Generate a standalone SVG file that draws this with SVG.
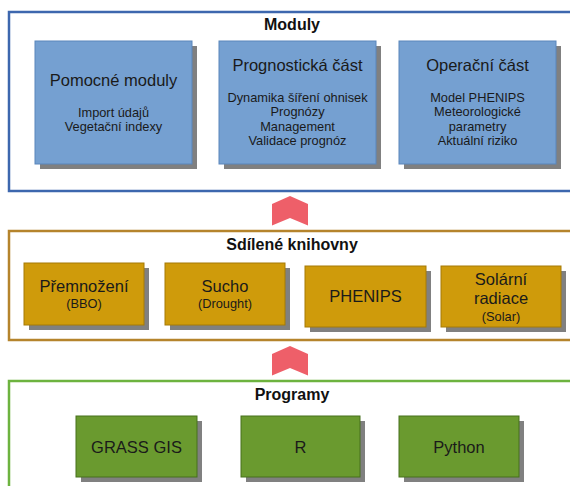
<svg xmlns="http://www.w3.org/2000/svg" width="570" height="486" viewBox="0 0 570 486">
<style>
  .frame{fill:#ffffff;stroke-width:2.5}
  .ftitle{font-family:"Liberation Sans",Arial,sans-serif;font-weight:bold;font-size:16px;fill:#111;text-anchor:middle}
  .shadow{fill:#808080}
  .blue{fill:#75a0d1;stroke:#5a86bb;stroke-width:1}
  .gold{fill:#cf9b0b;stroke:#a67a06;stroke-width:1}
  .green{fill:#6a9a2f;stroke:#46701c;stroke-width:1}
  .t{font-family:"Liberation Sans",Arial,sans-serif;font-size:16.5px;fill:#1a1a1a;text-anchor:middle}
  .s{font-family:"Liberation Sans",Arial,sans-serif;font-size:12.8px;fill:#1a1a1a;text-anchor:middle}
  .arrow{fill:#ee5f69}
</style>
<rect width="570" height="486" fill="#ffffff"/>

<g id="frame-moduly">
  <rect class="frame" x="9" y="12" width="570" height="179" stroke="#3d67ae"/>
  <text class="ftitle" x="292" y="30">Moduly</text>
</g>
<g id="frame-knihovny">
  <rect class="frame" x="9" y="231" width="570" height="109" stroke="#b5842c"/>
  <text class="ftitle" x="292" y="250">Sdílené knihovny</text>
</g>
<g id="frame-programy">
  <rect class="frame" x="9" y="381" width="570" height="120" stroke="#6db33f"/>
  <text class="ftitle" x="292" y="400">Programy</text>
</g>

<g id="pomocne">
  <rect class="shadow" x="40" y="46" width="157" height="123"/>
  <rect class="blue" x="35" y="41" width="157" height="123"/>
  <text class="t" x="113.5" y="86">Pomocné moduly</text>
  <text class="s" x="113.5" y="116.5">Import údajů</text>
  <text class="s" x="113.5" y="131">Vegetační indexy</text>
</g>
<g id="prognosticka">
  <rect class="shadow" x="224" y="46" width="157" height="123"/>
  <rect class="blue" x="219" y="41" width="157" height="123"/>
  <text class="t" x="297.5" y="71">Prognostická část</text>
  <text class="s" x="297.5" y="101.5">Dynamika šíření ohnisek</text>
  <text class="s" x="297.5" y="116">Prognózy</text>
  <text class="s" x="297.5" y="130.5">Management</text>
  <text class="s" x="297.5" y="145">Validace prognóz</text>
</g>
<g id="operacni">
  <rect class="shadow" x="404" y="46" width="157" height="123"/>
  <rect class="blue" x="399" y="41" width="157" height="123"/>
  <text class="t" x="477.5" y="71">Operační část</text>
  <text class="s" x="477.5" y="101.5">Model PHENIPS</text>
  <text class="s" x="477.5" y="116">Meteorologické</text>
  <text class="s" x="477.5" y="130.5">parametry</text>
  <text class="s" x="477.5" y="145">Aktuální riziko</text>
</g>

<g id="premnozeni">
  <rect class="shadow" x="29" y="268" width="120" height="62"/>
  <rect class="gold" x="24" y="263" width="120" height="62"/>
  <text class="t" x="84" y="292">Přemnožení</text>
  <text class="s" x="84" y="307.5">(BBO)</text>
</g>
<g id="sucho">
  <rect class="shadow" x="170" y="268" width="120" height="62"/>
  <rect class="gold" x="165" y="263" width="120" height="62"/>
  <text class="t" x="225" y="292">Sucho</text>
  <text class="s" x="225" y="307.5">(Drought)</text>
</g>
<g id="phenips">
  <rect class="shadow" x="310" y="271" width="121" height="61"/>
  <rect class="gold" x="305" y="266" width="121" height="61"/>
  <text class="t" x="365.5" y="302">PHENIPS</text>
</g>
<g id="solarni">
  <rect class="shadow" x="446" y="271" width="120" height="61"/>
  <rect class="gold" x="441" y="266" width="120" height="61"/>
  <text class="t" x="501" y="285">Solární</text>
  <text class="t" x="501" y="304">radiace</text>
  <text class="s" x="501" y="321">(Solar)</text>
</g>

<g id="grass">
  <rect class="shadow" x="81" y="421" width="121" height="61"/>
  <rect class="green" x="76" y="416" width="121" height="61"/>
  <text class="t" x="136.5" y="452.5">GRASS GIS</text>
</g>
<g id="r">
  <rect class="shadow" x="246" y="421" width="119" height="61"/>
  <rect class="green" x="241" y="416" width="119" height="61"/>
  <text class="t" x="300.5" y="452.5">R</text>
</g>
<g id="python">
  <rect class="shadow" x="404" y="421" width="120" height="61"/>
  <rect class="green" x="399" y="416" width="120" height="61"/>
  <text class="t" x="459" y="452.5">Python</text>
</g>

<g id="connectors">
  <polygon class="arrow" points="290,196 308,204 308,225.5 290,218 272,225.5 272,204"/>
  <polygon class="arrow" points="290,346 308,354 308,375.5 290,368 272,375.5 272,354"/>
</g>
</svg>
